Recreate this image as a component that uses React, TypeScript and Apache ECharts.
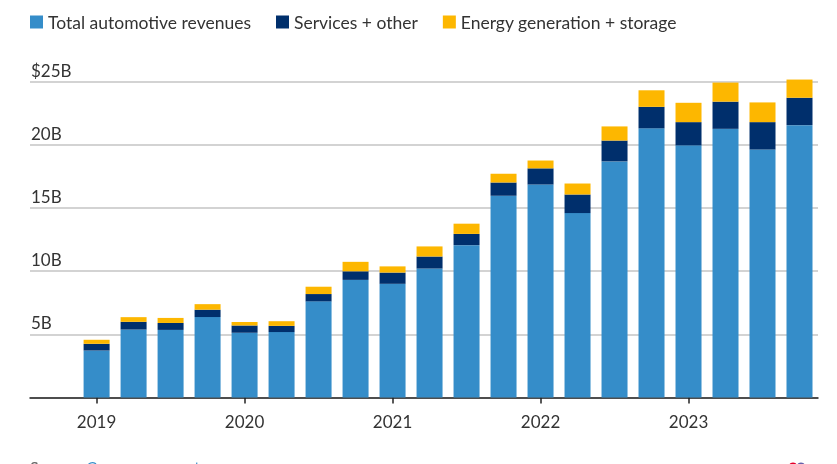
import React, { useEffect, useRef } from "react";
import * as echarts from "echarts";

const quarters = [
  "2019 Q1", "2019 Q2", "2019 Q3", "2019 Q4",
  "2020 Q1", "2020 Q2", "2020 Q3", "2020 Q4",
  "2021 Q1", "2021 Q2", "2021 Q3", "2021 Q4",
  "2022 Q1", "2022 Q2", "2022 Q3", "2022 Q4",
  "2023 Q1", "2023 Q2", "2023 Q3", "2023 Q4",
];
const automotive = [3.72, 5.38, 5.35, 6.37, 5.13, 5.18, 7.61, 9.31, 9.0, 10.21, 12.06, 15.97, 16.86, 14.6, 18.69, 21.31, 19.96, 21.27, 19.63, 21.56];
const services = [0.53, 0.61, 0.55, 0.58, 0.56, 0.49, 0.58, 0.68, 0.89, 0.95, 0.89, 1.06, 1.28, 1.47, 1.65, 1.7, 1.84, 2.15, 2.17, 2.17];
const energy = [0.32, 0.37, 0.4, 0.44, 0.29, 0.37, 0.58, 0.75, 0.49, 0.8, 0.81, 0.69, 0.62, 0.87, 1.12, 1.31, 1.53, 1.51, 1.56, 1.44];
const yearTicks = [0, 4, 8, 12, 16];
const yearLabels = ["2019", "2020", "2021", "2022", "2023"];
const seriesNames = ["Total automotive revenues", "Services + other", "Energy generation + storage"];
const colors = ["#358DC9", "#002F6C", "#FDB700"];

const FONT = "Lato, 'Open Sans', sans-serif";

export default function App() {
  const ref = useRef<HTMLDivElement>(null);
  useEffect(() => {
    if (!ref.current) return;
    const chart = echarts.init(ref.current, null, { renderer: "svg" });
    // rows are [value, quarterIndex]; value first so stacking happens on y
    const toRows = (arr: number[]) => arr.map((v, i) => [v, i]);
    const mk = (name: string, arr: number[], color: string) => ({
      name,
      type: "bar",
      stack: "rev",
      barWidth: 26,
      clip: false,
      encode: { x: 1, y: 0 },
      data: toRows(arr),
      itemStyle: { color },
    });
    chart.setOption({
      animation: false,
      textStyle: { fontFamily: FONT },
      color: colors,
      legend: {
        left: 30,
        top: 13,
        padding: 0,
        itemWidth: 13,
        itemHeight: 13,
        itemGap: 25,
        icon: "rect",
        textStyle: { fontFamily: FONT, fontSize: 17.5, color: "#333" },
        data: seriesNames,
      },
      grid: { left: 30, right: 19, top: 81.7, bottom: 66.5, containLabel: false },
      xAxis: {
        type: "value",
        min: -1.8,
        max: 19.5,
        splitLine: { show: false },
        axisLine: { show: true, lineStyle: { color: "#222", width: 1.5 } },
        axisTick: { show: true, customValues: yearTicks, length: 6, lineStyle: { color: "#222", width: 1.5 } },
        axisLabel: {
          customValues: yearTicks,
          formatter: (v: number) => yearLabels[yearTicks.indexOf(Math.round(v))] ?? "",
          fontFamily: FONT,
          fontSize: 17,
          color: "#333",
          margin: 15,
        },
      },
      yAxis: {
        type: "value",
        min: 0,
        max: 25,
        interval: 5,
        axisLine: { show: false },
        axisTick: { show: false },
        splitLine: { lineStyle: { color: "#D3D3D3", width: 2 } },
        axisLabel: {
          inside: true,
          margin: 1,
          verticalAlign: "bottom",
          lineHeight: 23,
          fontFamily: FONT,
          fontSize: 17,
          color: "#333",
          formatter: (v: number) => (v === 0 ? "" : v === 25 ? "$25B" : `${v}B`),
        },
      },
      graphic: [
        {
          type: "text",
          left: 30,
          top: 458,
          style: {
            text: "{a|Source: }{b|Company reports}",
            rich: {
              a: { fontFamily: FONT, fontSize: 16, fill: "#666" },
              b: { fontFamily: FONT, fontSize: 16, fill: "#358DC9" },
            },
          },
        },
        { type: "circle", shape: { cx: 793, cy: 467, r: 4.5 }, style: { fill: "#E4002B" } },
        { type: "circle", shape: { cx: 801, cy: 467, r: 4.5 }, style: { fill: "#6460AA" } },
      ],
      series: [
        mk(seriesNames[0], automotive, colors[0]),
        mk(seriesNames[1], services, colors[1]),
        mk(seriesNames[2], energy, colors[2]),
      ],
    });
    return () => chart.dispose();
  }, []);
  return <div ref={ref} style={{ position: "fixed", left: 0, top: 0, width: 837, height: 464 }} />;
}
